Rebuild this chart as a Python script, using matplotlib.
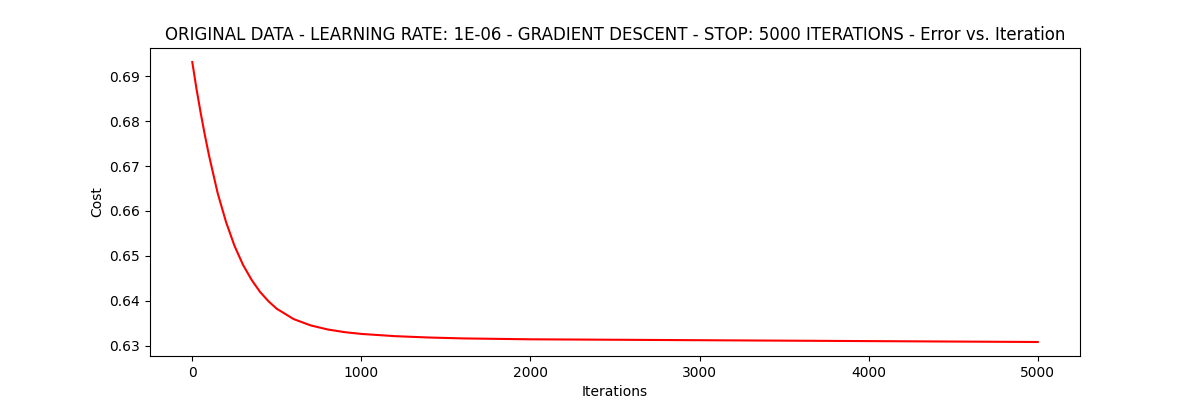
import matplotlib
matplotlib.use("Agg")
import matplotlib.pyplot as plt

iterations = [0, 25, 50, 75, 100, 150, 200, 250, 300, 350, 400, 450, 500, 600, 700, 800, 900, 1000,
              1200, 1400, 1600, 2000, 2500, 3000, 3500, 4000, 4500, 5000]
cost = [0.6932, 0.6872, 0.6818, 0.6768, 0.6722, 0.6640, 0.6575, 0.6522, 0.6480, 0.6447, 0.6420,
        0.6399, 0.6382, 0.6359, 0.6345, 0.6336, 0.6330, 0.6326, 0.6321, 0.6318, 0.6316, 0.6314,
        0.6313, 0.6312, 0.6311, 0.6310, 0.6309, 0.6308]

fig, ax = plt.subplots(figsize=(12, 4), dpi=100)
ax.plot(iterations, cost, color="red")
ax.set_title("ORIGINAL DATA - LEARNING RATE: 1E-06 - GRADIENT DESCENT - STOP: 5000 ITERATIONS - Error vs. Iteration")
ax.set_xlabel("Iterations")
ax.set_ylabel("Cost")
fig.savefig("out.png")
